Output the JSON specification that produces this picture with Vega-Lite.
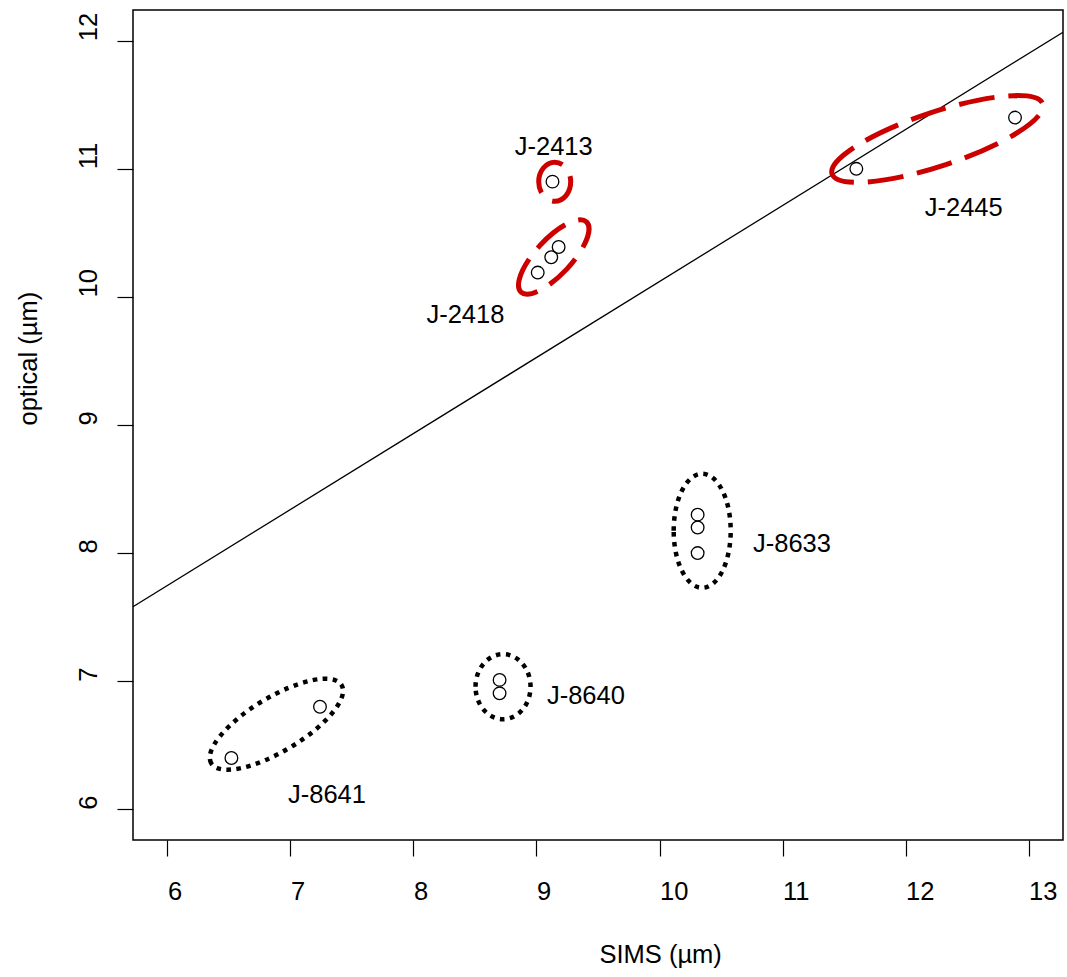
{
  "$schema": "https://vega.github.io/schema/vega-lite/v6.json",
  "width": 930,
  "height": 830,
  "autosize": {"type": "none"},
  "padding": {"left": 133, "top": 10, "right": 4, "bottom": 137},
  "background": "white",
  "config": {
    "view": {"stroke": "black", "strokeWidth": 1.5},
    "font": "Liberation Sans",
    "axis": {
      "grid": false,
      "domain": false,
      "tickColor": "black",
      "tickWidth": 1.2,
      "tickSize": 16,
      "labelFont": "Liberation Sans",
      "labelFontSize": 25.5,
      "labelColor": "black",
      "labelFlush": false,
      "labelOverlap": false,
      "titleFont": "Liberation Sans",
      "titleFontSize": 25.5,
      "titleFontWeight": "normal",
      "titleColor": "black"
    }
  },
  "datasets": {
    "fit": [
      {"x": 5.72, "y": 7.581},
      {"x": 13.28, "y": 12.066}
    ],
    "points": [
      {"sample": "J-2413", "x": 9.13, "y": 10.9},
      {"sample": "J-2418", "x": 9.01, "y": 10.19},
      {"sample": "J-2418", "x": 9.12, "y": 10.31},
      {"sample": "J-2418", "x": 9.18, "y": 10.39},
      {"sample": "J-2445", "x": 11.6, "y": 11.0},
      {"sample": "J-2445", "x": 12.89, "y": 11.4},
      {"sample": "J-8633", "x": 10.31, "y": 8.3},
      {"sample": "J-8633", "x": 10.31, "y": 8.2},
      {"sample": "J-8633", "x": 10.31, "y": 8.0},
      {"sample": "J-8640", "x": 8.7, "y": 7.01},
      {"sample": "J-8640", "x": 8.7, "y": 6.905},
      {"sample": "J-8641", "x": 6.52, "y": 6.4},
      {"sample": "J-8641", "x": 7.24, "y": 6.8}
    ],
    "groups": [
      {"sample": "J-2413", "x": 9.148, "y": 10.899},
      {"sample": "J-2418", "x": 9.14, "y": 10.312},
      {"sample": "J-2445", "x": 12.259, "y": 11.233},
      {"sample": "J-8633", "x": 10.347, "y": 8.174},
      {"sample": "J-8640", "x": 8.728, "y": 6.957},
      {"sample": "J-8641", "x": 6.886, "y": 6.664}
    ],
    "labels": [
      {"sample": "J-2413", "x": 8.823, "y": 11.108},
      {"sample": "J-2418", "x": 8.105, "y": 9.8},
      {"sample": "J-2445", "x": 12.156, "y": 10.628},
      {"sample": "J-8633", "x": 10.76, "y": 8.012},
      {"sample": "J-8640", "x": 9.085, "y": 6.818},
      {"sample": "J-8641", "x": 6.98, "y": 6.045}
    ]
  },
  "encoding": {
    "x": {
      "field": "x",
      "type": "quantitative",
      "scale": {"domain": [5.72, 13.28], "nice": false, "zero": false},
      "axis": {
        "title": "SIMS (µm)",
        "values": [6, 7, 8, 9, 10, 11, 12, 13],
        "labelAngle": 0,
        "labelAlign": "left",
        "labelBaseline": "alphabetic",
        "labelPadding": 43,
        "titleX": 466,
        "titleY": 122,
        "titleAlign": "left",
        "titleBaseline": "alphabetic",
        "titleAnchor": null
      }
    },
    "y": {
      "field": "y",
      "type": "quantitative",
      "scale": {"domain": [5.76, 12.24], "nice": false, "zero": false},
      "axis": {
        "title": "optical (µm)",
        "values": [6, 7, 8, 9, 10, 11, 12],
        "labelAngle": -90,
        "labelAlign": "left",
        "labelBaseline": "alphabetic",
        "labelPadding": 20.3,
        "titleX": -97,
        "titleY": 415,
        "titleAngle": -90,
        "titleAlign": "left",
        "titleBaseline": "alphabetic",
        "titleAnchor": null
      }
    }
  },
  "layer": [
    {
      "data": {"name": "fit"},
      "mark": {"type": "line", "color": "black", "strokeWidth": 1.3, "clip": true}
    },
    {
      "data": {"name": "groups"},
      "transform": [{"filter": {"field": "sample", "oneOf": ["J-2413", "J-2418", "J-2445"]}}],
      "mark": {"type": "point", "filled": false, "color": "#CD0000", "strokeWidth": 5, "strokeDash": [36, 14], "strokeCap": "butt", "size": 4, "opacity": 1},
      "encoding": {
        "shape": {
          "field": "sample",
          "type": "nominal",
          "legend": null,
          "scale": {
            "domain": ["J-2413", "J-2418", "J-2445", "J-8633", "J-8640", "J-8641"],
            "range": [
              "M -16 0 A 16 19.5 0 0 1 16 0 A 16 19.5 0 0 1 -16 0 Z",
              "M -32.74 35.1 A 48 18 -47 0 1 32.74 -35.1 A 48 18 -47 0 1 -32.74 35.1 Z",
              "M -105.33 35.03 A 111 27 -18.4 0 1 105.33 -35.03 A 111 27 -18.4 0 1 -105.33 35.03 Z",
              "M -28.5 0 A 28.5 57 0 0 1 28.5 0 A 28.5 57 0 0 1 -28.5 0 Z",
              "M -27.5 0 A 27.5 32.5 0 0 1 27.5 0 A 27.5 32.5 0 0 1 -27.5 0 Z",
              "M -65.15 39.14 A 76 27 -31 0 1 65.15 -39.14 A 76 27 -31 0 1 -65.15 39.14 Z"
            ]
          }
        }
      }
    },
    {
      "data": {"name": "groups"},
      "transform": [{"filter": {"field": "sample", "oneOf": ["J-8633", "J-8640", "J-8641"]}}],
      "mark": {"type": "point", "filled": false, "color": "black", "strokeWidth": 4.5, "strokeDash": [4.5, 5.5], "strokeCap": "butt", "size": 4, "opacity": 1},
      "encoding": {
        "shape": {
          "field": "sample",
          "type": "nominal",
          "legend": null,
          "scale": {
            "domain": ["J-2413", "J-2418", "J-2445", "J-8633", "J-8640", "J-8641"],
            "range": [
              "M -16 0 A 16 19.5 0 0 1 16 0 A 16 19.5 0 0 1 -16 0 Z",
              "M -32.74 35.1 A 48 18 -47 0 1 32.74 -35.1 A 48 18 -47 0 1 -32.74 35.1 Z",
              "M -105.33 35.03 A 111 27 -18.4 0 1 105.33 -35.03 A 111 27 -18.4 0 1 -105.33 35.03 Z",
              "M -28.5 0 A 28.5 57 0 0 1 28.5 0 A 28.5 57 0 0 1 -28.5 0 Z",
              "M -27.5 0 A 27.5 32.5 0 0 1 27.5 0 A 27.5 32.5 0 0 1 -27.5 0 Z",
              "M -65.15 39.14 A 76 27 -31 0 1 65.15 -39.14 A 76 27 -31 0 1 -65.15 39.14 Z"
            ]
          }
        }
      }
    },
    {
      "data": {"name": "points"},
      "mark": {"type": "point", "shape": "circle", "filled": false, "color": "black", "strokeWidth": 1.3, "size": 160, "opacity": 1}
    },
    {
      "data": {"name": "labels"},
      "mark": {"type": "text", "align": "left", "baseline": "alphabetic", "fontSize": 25.5, "font": "Liberation Sans", "color": "black"},
      "encoding": {"text": {"field": "sample", "type": "nominal"}}
    }
  ]
}
